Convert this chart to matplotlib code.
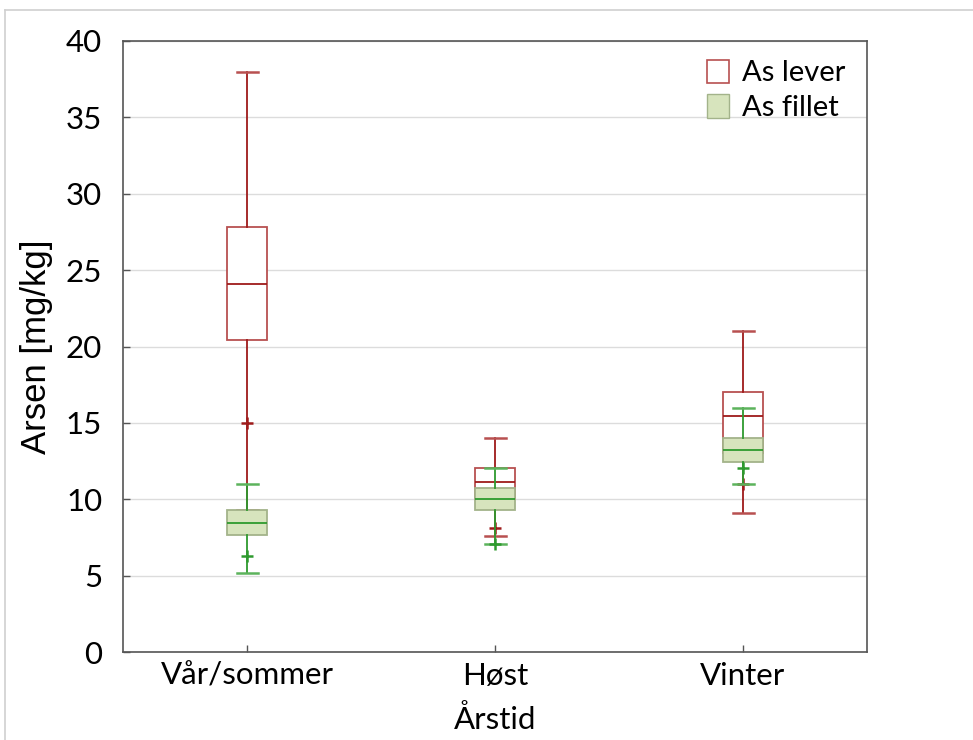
import matplotlib
matplotlib.use("Agg")
import matplotlib.pyplot as plt
from matplotlib.patches import Patch
from matplotlib.lines import Line2D

categories = ["Vår/sommer", "Høst", "Vinter"]
series_names = ["As lever", "As fillet"]

# lever: whislo, q1, med, q3, whishi, fliers
lever_whislo = [9.3, 7.6, 9.1]
lever_q1 = [20.4, 10.0, 13.0]
lever_med = [24.1, 11.15, 15.45]
lever_q3 = [27.8, 12.05, 17.05]
lever_whishi = [38.0, 14.0, 21.0]
lever_fliers = [[15.0], [8.1], [11.0]]

fillet_whislo = [5.2, 7.1, 11.0]
fillet_q1 = [7.63, 9.3, 12.46]
fillet_med = [8.44, 10.0, 13.22]
fillet_q3 = [9.3, 10.73, 14.03]
fillet_whishi = [11.0, 12.05, 16.0]
fillet_fliers = [[6.3], [7.1], [12.07]]

yticks = [0, 5, 10, 15, 20, 25, 30, 35, 40]

RED = "#9e1a1a"
RED_BOX = "#b85050"
GREEN = "#2e9a2e"
GREEN_FACE = "#d7e4bd"
GREEN_EDGE = "#a3b38a"

plt.rcParams['font.family'] = ['Lato', 'DejaVu Sans']

fig = plt.figure(figsize=(9.73, 7.4), dpi=100)
ax = fig.add_axes([123/973, 1-652/740, (867-123)/973, (652-41)/740])

def stats(wl, q1, md, q3, wh, fl):
    return [dict(whislo=a, q1=b, med=c, q3=d, whishi=e, fliers=f, label=lab)
            for a, b, c, d, e, f, lab in zip(wl, q1, md, q3, wh, fl, categories)]

pos = [1, 2, 3]
bw = 40/248
cw = 21/248

ax.bxp(stats(lever_whislo, lever_q1, lever_med, lever_q3, lever_whishi, lever_fliers),
       positions=pos, widths=bw, patch_artist=True, showfliers=True,
       boxprops=dict(facecolor="white", edgecolor=RED_BOX, linewidth=1.3),
       medianprops=dict(color=RED, linewidth=1.3),
       whiskerprops=dict(color=RED, linewidth=1.3),
       capprops=dict(color=RED_BOX, linewidth=1.8),
       capwidths=cw,
       flierprops=dict(marker="+", markeredgecolor=RED, markersize=9, markeredgewidth=1.8),
       zorder=2)

ax.bxp(stats(fillet_whislo, fillet_q1, fillet_med, fillet_q3, fillet_whishi, fillet_fliers),
       positions=pos, widths=bw, patch_artist=True, showfliers=True,
       boxprops=dict(facecolor=GREEN_FACE, edgecolor=GREEN_EDGE, linewidth=1.3),
       medianprops=dict(color=GREEN, linewidth=1.3),
       whiskerprops=dict(color=GREEN, linewidth=1.3),
       capprops=dict(color="#5cb35c", linewidth=1.8),
       capwidths=cw,
       flierprops=dict(marker="+", markeredgecolor=GREEN, markersize=9, markeredgewidth=1.8),
       zorder=3)

ax.set_xlim(0.5, 3.5)
ax.set_ylim(0, 40)
ax.set_yticks(yticks)
ax.set_yticklabels([str(t) for t in yticks])
ax.set_xticks(pos)
ax.set_xticklabels(categories)
ax.yaxis.grid(True, color="#dcdcdc", linewidth=1.0, zorder=0)
ax.set_axisbelow(True)
ax.tick_params(axis="y", direction="in", length=5, width=1, color="#555555", pad=15, labelsize=22.5)
ax.tick_params(axis="x", direction="in", length=5, width=1, color="#555555", pad=7, labelsize=22.5)
for s in ax.spines.values():
    s.set_color("#555555")
    s.set_linewidth(1.2)

ax.set_ylabel("Arsen [mg/kg]", fontsize=25, family=["Liberation Sans", "DejaVu Sans"], labelpad=9)
ax.set_xlabel("Årstid", fontsize=22.5, labelpad=11)

handles = [Patch(facecolor="white", edgecolor=RED_BOX, linewidth=1.2, label=series_names[0]),
           Patch(facecolor=GREEN_FACE, edgecolor=GREEN_EDGE, linewidth=1.0, label=series_names[1])]
ax.legend(handles=handles, loc="upper right", bbox_to_anchor=(0.999, 1.003), frameon=False,
          fontsize=21, handlelength=0.75, handleheight=0.85, handletextpad=0.45, labelspacing=0.28,
          borderaxespad=0.3)

# light gray figure frame
fig.add_artist(Line2D([5/973, 1], [1-10/740, 1-10/740], color="#d0d0d0", linewidth=1.2))
fig.add_artist(Line2D([5/973, 5/973], [0, 1-10/740], color="#d0d0d0", linewidth=1.2))

fig.savefig("out.png", dpi=100)
